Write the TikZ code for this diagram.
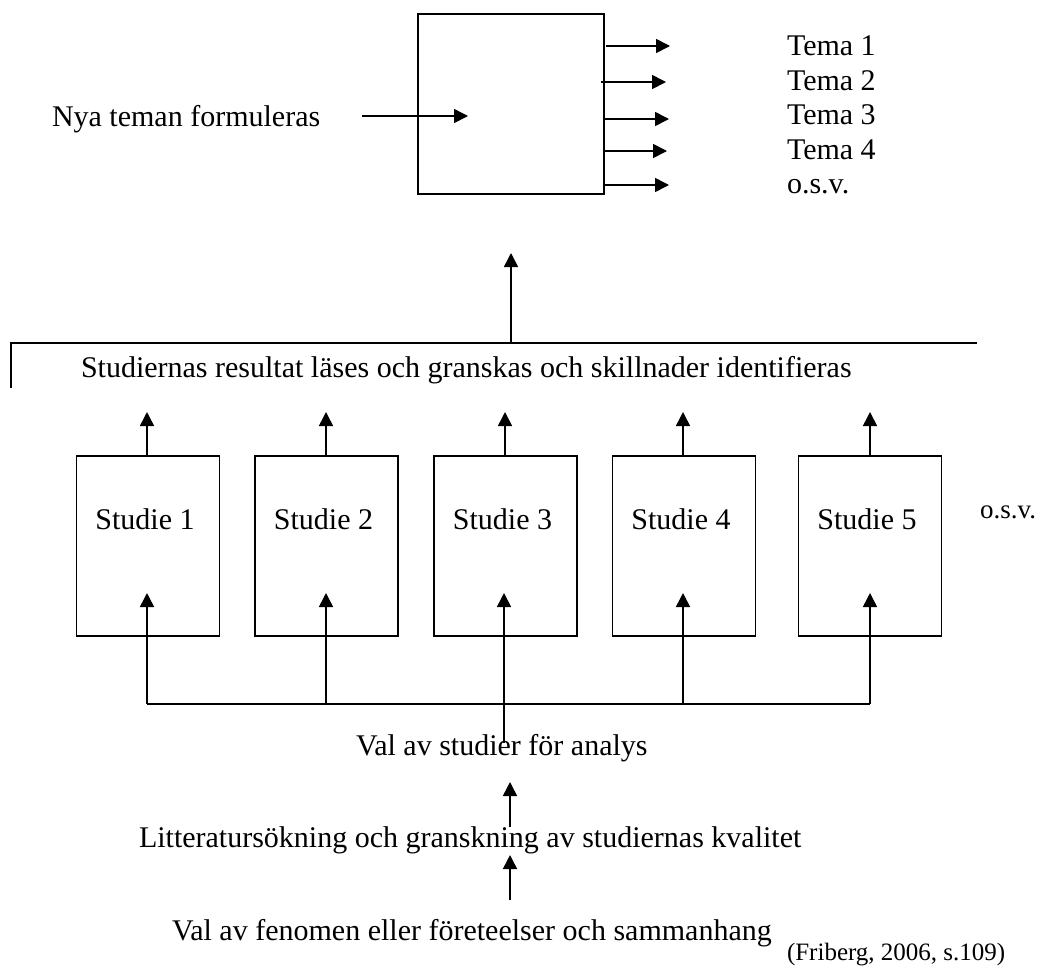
\documentclass[tikz,border=0pt]{standalone}
\usepackage{fontspec}
\setmainfont{Liberation Serif}
\usetikzlibrary{arrows.meta}
\begin{document}
\begin{tikzpicture}[x=0.75pt,y=-0.75pt,
  box/.style={draw,line width=1.2pt,inner sep=0pt,outer sep=0pt},
  studbox/.style={box,minimum width=107pt,minimum height=135pt},
  ln/.style={line width=1.2pt},
  arr/.style={line width=1.2pt,-{Triangle[length=10.5pt,width=10.5pt]}},
  txt/.style={font=\fontsize{22.5pt}{27pt}\selectfont,inner sep=0pt,outer sep=0pt,anchor=base west},
  ctxt/.style={txt,anchor=base},
  small/.style={txt,font=\fontsize{18.75pt}{22pt}\selectfont},
  mid/.style={txt,font=\fontsize{20.25pt}{24pt}\selectfont}]
\fill[white] (0,0) rectangle (1044,975);
\path[use as bounding box] (0,0) rectangle (1044,975);

% top box
\node[box,minimum width=139.5pt,minimum height=135pt] (top) at (511,104) {};
\node[txt] (nya) at (52,126) {Nya teman formuleras};
\coordinate (in0) at (362,116);
\coordinate (in1) at (468,116);
\draw[arr] (in0) -- (in1);

% themes
\node[txt] (t1) at (787,55.5) {Tema 1};
\node[txt] (t2) at (787,90) {Tema 2};
\node[txt] (t3) at (787,124.5) {Tema 3};
\node[txt] (t4) at (787,159) {Tema 4};
\node[txt] (t5) at (787,193.5) {o.s.v.};
\coordinate (o1) at (670,46);
\coordinate (o2) at (666,82);
\coordinate (o3) at (669,119);
\coordinate (o4) at (667,151);
\coordinate (o5) at (669,185);
\draw[arr] ([xshift=1.5pt]top.east |- o1) -- (o1);
\draw[arr] ([xshift=-2.25pt]top.east |- o2) -- (o2);
\draw[arr] (top.east |- o3) -- (o3);
\draw[arr] ([xshift=-0.75pt]top.east |- o4) -- (o4);
\draw[arr] (top.east |- o5) -- (o5);

% bar
\coordinate (barL) at (11,343);
\coordinate (barR) at (977,343);
\coordinate (barT) at (11,388);
\draw[ln] (barT) -- (barL) -- (barR);
\coordinate (upT) at (511,253);
\draw[arr] (upT |- barL) -- (upT);
\node[txt] (res) at (81,377) {Studiernas resultat läses och granskas och skillnader identifieras};

% studies
\node[studbox] (s1) at (148,546) {};
\node[studbox] (s2) at (326.5,546) {};
\node[studbox] (s3) at (505.5,546) {};
\node[studbox] (s4) at (684,546) {};
\node[studbox] (s5) at (870,546) {};
\node[ctxt] (s1t) at (145,529) {Studie 1};
\node[ctxt] (s2t) at (323.5,529) {Studie 2};
\node[ctxt] (s3t) at (502.5,529) {Studie 3};
\node[ctxt] (s4t) at (681,529) {Studie 4};
\node[ctxt] (s5t) at (867,529) {Studie 5};
\node[mid] (osv) at (980,518) {o.s.v.};

\coordinate (u1) at (147,412);
\coordinate (u2) at (326,412);
\coordinate (u3) at (505,412);
\coordinate (u4) at (683,412);
\coordinate (u5) at (870,412);
\draw[arr] (s1.north -| u1) -- (u1);
\draw[arr] (s2.north -| u2) -- (u2);
\draw[arr] (s3.north -| u3) -- (u3);
\draw[arr] (s4.north -| u4) -- (u4);
\draw[arr] (s5.north -| u5) -- (u5);

% bus
\coordinate (busL) at (147,704);
\coordinate (busR) at (870,704);
\draw[ln] (busL) -- (busR);
\coordinate (i1) at (147,593);
\coordinate (i2) at (326,593);
\coordinate (i3) at (504,593);
\coordinate (i4) at (683,593);
\coordinate (i5) at (870,593);
\draw[arr] (busL) -- (i1);
\draw[arr] (i2 |- busL) -- (i2);
\draw[arr] (i4 |- busL) -- (i4);
\draw[arr] (busR) -- (i5);

\node[txt] (val) at (356,755) {Val av studier för analys};
\coordinate (m0) at (504,743);
\draw[arr] (m0) -- (i3);

% bottom chain
\node[txt] (lit) at (139,847) {Litteratursökning och granskning av studiernas kvalitet};
\node[txt] (fen) at (172,940) {Val av fenomen eller företeelser och sammanhang};
\coordinate (a1t) at (510,782);
\coordinate (a1b) at (510,827);
\coordinate (a2t) at (510,855);
\coordinate (a2b) at (510,900);
\draw[arr] (a1b) -- (a1t);
\draw[arr] (a2b) -- (a2t);

\node[small] (src) at (787,960) {(Friberg, 2006, s.109)};
\end{tikzpicture}
\end{document}
